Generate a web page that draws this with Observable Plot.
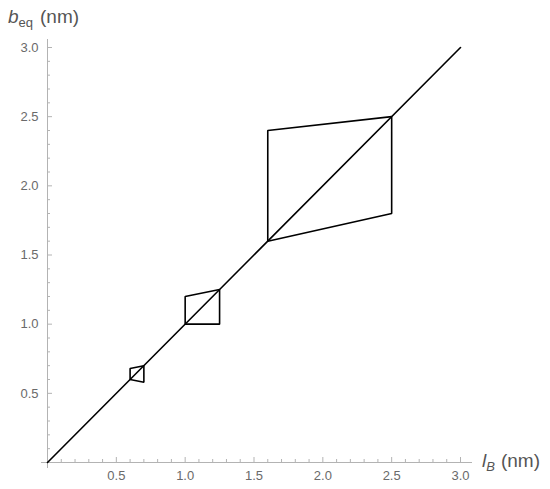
<!DOCTYPE html>
<html>
<head>
<meta charset="utf-8">
<script src="https://cdn.jsdelivr.net/npm/d3@7"></script>
<script src="https://cdn.jsdelivr.net/npm/@observablehq/plot@0.6"></script>
<style>
  html, body { margin: 0; padding: 0; background: #fff; }
  #chart { width: 550px; height: 489px; }
</style>
</head>
<body>
<div id="chart"></div>
<script>
// Data
const diagonalX = [0, 3];
const diagonalY = [0, 3];
const boxSmallX = [0.6, 0.6, 0.7, 0.7, 0.6];
const boxSmallY = [0.6, 0.68, 0.7, 0.58, 0.6];
const boxMediumX = [1.0, 1.0, 1.25, 1.25, 1.0];
const boxMediumY = [1.0, 1.2, 1.25, 1.0, 1.0];
const boxLargeX = [1.6, 1.6, 2.5, 2.5, 1.6];
const boxLargeY = [1.6, 2.4, 2.5, 1.8, 1.6];
const majorTicks = [0.5, 1.0, 1.5, 2.0, 2.5, 3.0];
const minorTicks = d3.range(1, 30).map(i => i / 10).filter(v => Math.abs(v * 2 - Math.round(v * 2)) > 1e-6);

const toRows = (xs, ys, name) => xs.map((x, i) => ({x, y: ys[i], name}));
const diagonal = toRows(diagonalX, diagonalY, "diag");
const boxes = [
  ...toRows(boxSmallX, boxSmallY, "small"),
  ...toRows(boxMediumX, boxMediumY, "medium"),
  ...toRows(boxLargeX, boxLargeY, "large")
];

const axisGray = "#b3b3b3";
const textGray = "#6a6a6a";
const fmt = d3.format(".1f");
const font = "Liberation Sans, Arial, sans-serif";

const chart = Plot.plot({
  width: 550,
  height: 489,
  marginLeft: 47,
  marginRight: 90,
  marginTop: 47,
  marginBottom: 27,
  style: {fontFamily: font, background: "#fff"},
  x: {domain: [0, 3], label: null},
  y: {domain: [0, 3], label: null},
  marks: [
    // axis lines (slightly extended past the origin like the reference)
    Plot.ruleY([0], {stroke: axisGray, strokeWidth: 1, insetLeft: -6, insetRight: -12}),
    Plot.ruleX([0], {stroke: axisGray, strokeWidth: 1, insetTop: -8, insetBottom: -6}),
    // inward tick marks
    Plot.axisX({ticks: majorTicks, tickSize: 5, dy: -5, fill: "none", stroke: axisGray, label: null}),
    Plot.axisX({ticks: minorTicks, tickSize: 3, dy: -3, fill: "none", stroke: axisGray, label: null}),
    Plot.axisY({ticks: majorTicks, tickSize: 5, dx: 5, fill: "none", stroke: axisGray, label: null}),
    Plot.axisY({ticks: minorTicks, tickSize: 3, dx: 3, fill: "none", stroke: axisGray, label: null}),
    // tick labels
    Plot.axisX({ticks: majorTicks, tickSize: 0, tickPadding: 8, tickFormat: fmt, fill: textGray, stroke: "none", fontSize: 13, label: null}),
    Plot.axisY({ticks: majorTicks, tickSize: 0, tickPadding: 9, tickFormat: fmt, fill: textGray, stroke: "none", fontSize: 13, label: null}),
    // data
    Plot.line(diagonal, {x: "x", y: "y", stroke: "black", strokeWidth: 1.6}),
    Plot.line(boxes, {x: "x", y: "y", z: "name", stroke: "black", strokeWidth: 1.6, strokeLinejoin: "miter"})
  ]
});

document.getElementById("chart").appendChild(chart);

const svg = d3.select(chart);
// make sure tick labels are 13px
svg.selectAll("g[aria-label$='tick label']").attr("font-size", 13).style("font-size", "13px");
svg.selectAll("g[aria-label$='tick label'] text").style("font-size", "13px");

// axis titles with italic symbols and subscripts
const yTitle = svg.append("text")
  .attr("x", 8).attr("y", 23)
  .attr("text-anchor", "start")
  .attr("font-family", font)
  .attr("fill", "#555").style("font-size", "19px");
yTitle.append("tspan").attr("font-style", "italic").text("b");
yTitle.append("tspan").style("font-size", "13px").attr("dy", 4).text("eq");
yTitle.append("tspan").attr("dy", -4).attr("dx", 7).text("(nm)");

const xTitle = svg.append("text")
  .attr("x", 482).attr("y", 467)
  .attr("text-anchor", "start")
  .attr("font-family", font)
  .attr("fill", "#555").style("font-size", "19px");
xTitle.append("tspan").attr("font-style", "italic").text("l");
xTitle.append("tspan").style("font-size", "13px").attr("font-style", "italic").attr("dy", 4).text("B");
xTitle.append("tspan").attr("dy", -4).attr("dx", 6).text("(nm)");
</script>
</body>
</html>
